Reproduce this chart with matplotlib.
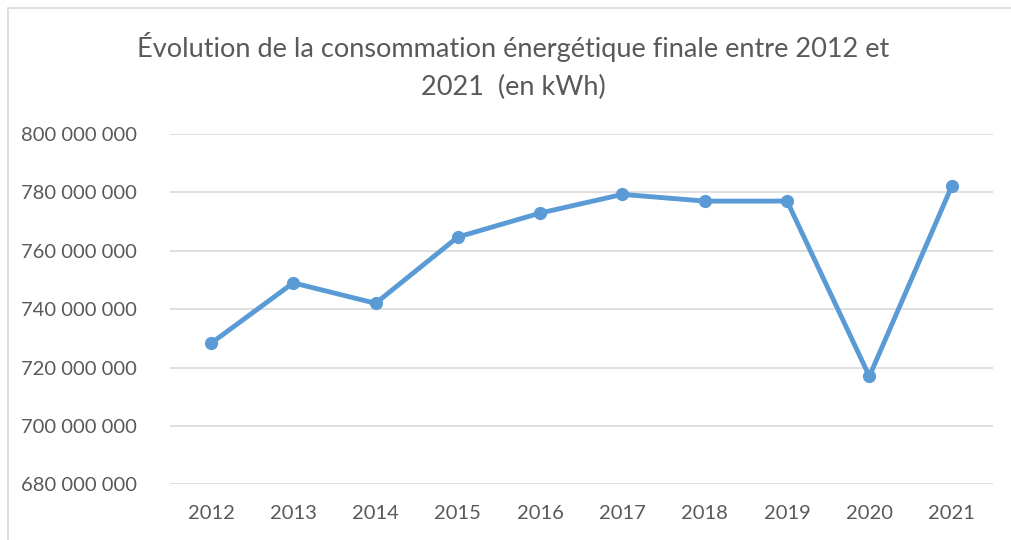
import matplotlib.pyplot as plt
from matplotlib.patches import Rectangle
from matplotlib.ticker import FuncFormatter

# données (kWh)
annees = ['2012', '2013', '2014', '2015', '2016', '2017', '2018', '2019', '2020', '2021']
consommation = [728.3e6, 749.0e6, 742.0e6, 764.7e6, 772.9e6, 779.3e6, 777.0e6, 777.0e6, 717.0e6, 782.0e6]
graduations = [680e6, 700e6, 720e6, 740e6, 760e6, 780e6, 800e6]

plt.rcParams['font.family'] = ['Lato', 'DejaVu Sans']

fig = plt.figure(figsize=(10.11, 5.4), dpi=100)
ax = fig.add_axes([0.168, 0.103, 0.814, 0.649])

# cadre gris de la zone de graphique
fig.patches.append(Rectangle((8 / 1011, -0.05), 1.1, 1 - 8 / 540 + 0.05,
                             transform=fig.transFigure, fill=False,
                             edgecolor='#d9d9d9', linewidth=1.2))

x = range(len(annees))
ax.plot(x, consommation, color='#5b9bd5', linewidth=3.5, marker='o',
        markersize=8.5, solid_joinstyle='round', zorder=3)

ax.set_xlim(-0.5, len(annees) - 0.5)
ax.set_ylim(680e6, 800e6)
ax.set_yticks(graduations)
ax.yaxis.set_major_formatter(FuncFormatter(lambda v, p: f'{int(round(v)):,}'.replace(',', ' ')))
ax.set_xticks(list(x))
ax.set_xticklabels(annees)

ax.grid(axis='y', color='#d9d9d9', linewidth=1.2)
ax.set_axisbelow(True)
for s in ax.spines.values():
    s.set_visible(False)
ax.tick_params(axis='both', length=0, labelsize=14.5, labelcolor='#595959')
ax.tick_params(axis='y', pad=24)
ax.tick_params(axis='x', pad=15)

fig.text(513 / 1011, 1 - 47 / 540, 'Évolution de la consommation énergétique finale entre 2012 et',
         ha='center', va='center', fontsize=19.5, color='#595959')
fig.text(513 / 1011, 1 - 87 / 540, '2021  (en kWh)',
         ha='center', va='center', fontsize=19.5, color='#595959')

fig.savefig('out.png', dpi=100)
